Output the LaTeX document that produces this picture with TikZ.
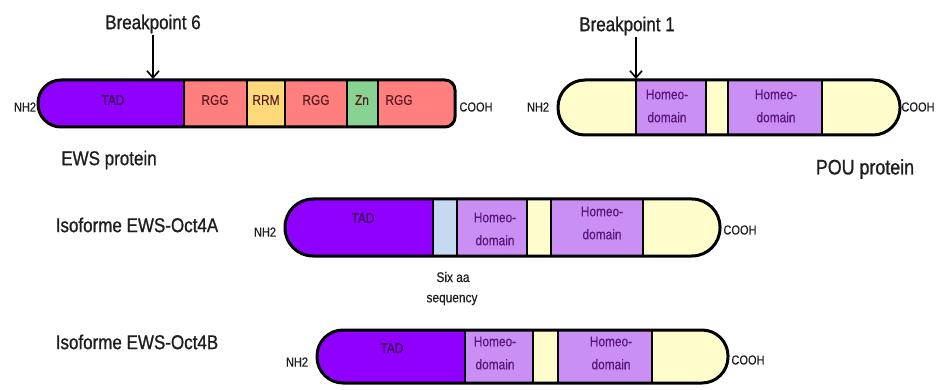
\documentclass[tikz,border=0pt]{standalone}
\usepackage{fontspec}
\setmainfont{Liberation Sans}[FakeStretch=0.85, FakeBold=0.4]
\newfontfamily\titlefont{Liberation Sans}[FakeStretch=0.85, FakeBold=1.0]
\usetikzlibrary{arrows.meta}
\definecolor{tadc}{HTML}{8F00FF}
\definecolor{rggc}{HTML}{FF7F7F}
\definecolor{rrmc}{HTML}{FFD97A}
\definecolor{znc}{HTML}{88D392}
\definecolor{homc}{HTML}{C98FF5}
\definecolor{bluec}{HTML}{C5DAF0}
\definecolor{yelc}{HTML}{FFFDCC}
\definecolor{tadtext}{HTML}{3A0050}
\definecolor{rggtext}{HTML}{5A1A20}
\definecolor{homtext}{HTML}{5A1575}
\definecolor{darktext}{HTML}{1E1E1E}
% x0 y0 x1 y1 left-radius right-radius
\newcommand\capsulepath[6]{({(#1+#3)/2},#2) [rounded corners=#6] -- (#3,#2) -- (#3,#4) -- ({(#1+#3)/2},#4) [rounded corners=#5] -- (#1,#4) -- (#1,#2) -- cycle}
\tikzset{
  outline/.style={draw=black, line width=3},
  sep/.style={draw=black, line width=2.2},
  title/.style={font=\titlefont\fontsize{20}{22}\selectfont, text=darktext, inner sep=1},
  term/.style={font=\fontsize{13}{14}\selectfont, text=darktext, inner sep=0},
  lab/.style={font=\fontsize{14}{15}\selectfont, inner sep=0},
  homlab/.style={font=\fontsize{14}{23}\selectfont, text=homtext, align=center, inner sep=0},
  bparrow/.style={draw=black, line width=1.6, -{Straight Barb[length=7,width=12,line width=1.6]}}
}
\begin{document}
\begin{tikzpicture}[x=1pt,y=-1pt]
\useasboundingbox (0,0) rectangle (939,390);

% ---------------- EWS protein ----------------
\begin{scope}
\clip \capsulepath{38}{80}{455}{127}{23}{10};
\fill[tadc] (30,75) rectangle (184,132);
\fill[rggc] (184,75) rectangle (247,132);
\fill[rrmc] (247,75) rectangle (285,132);
\fill[rggc] (285,75) rectangle (347,132);
\fill[znc] (347,75) rectangle (378,132);
\fill[rggc] (378,75) rectangle (460,132);
\end{scope}
\foreach \x in {184,247,285,347,378} \draw[sep] (\x,80) -- (\x,127);
\draw[outline] \capsulepath{38}{80}{455}{127}{23}{10};
\node[lab, text=tadtext] (ewstad) at (113,100) {TAD};
\node[lab, text=rggtext] (ewsrgg1) at (215,100) {RGG};
\node[lab, text=rggtext] (ewsrrm) at (266,100) {RRM};
\node[lab, text=rggtext] (ewsrgg2) at (316,100) {RGG};
\node[lab, text=rggtext] (ewszn) at (362,100) {Zn};
\node[lab, text=rggtext] (ewsrgg3) at (399,100) {RGG};
\node[term] (ewsnh) at (25,107) {NH2};
\node[term] (ewscooh) at (476,107) {COOH};
\node[title] (bp6t) at (153,24) {Breakpoint 6};
\coordinate (bp6) at (153,79);
\draw[bparrow] (bp6t.south) -- (bp6);
\node[title] (ewsname) at (109,160) {EWS protein};

% ---------------- POU protein ----------------
\begin{scope}
\clip \capsulepath{558}{80}{900}{135}{27}{27};
\fill[yelc] (550,75) rectangle (636,140);
\fill[homc] (636,75) rectangle (706,140);
\fill[yelc] (706,75) rectangle (728,140);
\fill[homc] (728,75) rectangle (822,140);
\fill[yelc] (822,75) rectangle (905,140);
\end{scope}
\foreach \x in {636,706,728,822} \draw[sep] (\x,80) -- (\x,135);
\draw[outline] \capsulepath{558}{80}{900}{135}{27}{27};
\node[homlab] (pouh1) at (667,106) {Homeo-\\domain};
\node[homlab] (pouh2) at (776,106) {Homeo-\\domain};
\node[term] (pounh) at (538,107) {NH2};
\node[term] (poucooh) at (918,107) {COOH};
\node[title] (bp1t) at (627,26) {Breakpoint 1};
\coordinate (bp1) at (636,79);
\draw[bparrow] (bp1t.south -| bp1) -- (bp1);
\node[title, font=\titlefont\fontsize{21}{23}\selectfont] (pouname) at (865,169) {POU protein};

% ---------------- Isoforme EWS-Oct4A ----------------
\begin{scope}
\clip \capsulepath{285}{199}{720}{256}{28}{28};
\fill[tadc] (280,195) rectangle (433,260);
\fill[bluec] (433,195) rectangle (457,260);
\fill[homc] (457,195) rectangle (527,260);
\fill[yelc] (527,195) rectangle (551,260);
\fill[homc] (551,195) rectangle (643,260);
\fill[yelc] (643,195) rectangle (725,260);
\end{scope}
\foreach \x in {433,457,527,551,643} \draw[sep] (\x,199) -- (\x,256);
\draw[outline] \capsulepath{285}{199}{720}{256}{28}{28};
\node[lab, text=tadtext] (atad) at (363,218) {TAD};
\node[homlab] (ah1) at (495,229) {Homeo-\\domain};
\node[homlab] (ah2) at (602,223) {Homeo-\\domain};
\node[term] (anh) at (265,232) {NH2};
\node[term] (acooh) at (740,230) {COOH};
\node[title] (aname) at (137,225) {Isoforme EWS-Oct4A};
\node[lab, text=darktext] (six) at (453,277) {Six aa};
\node[lab, text=darktext] (seq) at (452,300) {sequency};

% ---------------- Isoforme EWS-Oct4B ----------------
\begin{scope}
\clip \capsulepath{317}{330}{728}{383}{26}{26};
\fill[tadc] (310,325) rectangle (465,390);
\fill[homc] (465,325) rectangle (533,390);
\fill[yelc] (533,325) rectangle (558,390);
\fill[homc] (558,325) rectangle (652,390);
\fill[yelc] (652,325) rectangle (735,390);
\end{scope}
\foreach \x in {465,533,558,652} \draw[sep] (\x,330) -- (\x,383);
\draw[outline] \capsulepath{317}{330}{728}{383}{26}{26};
\node[lab, text=tadtext] (btad) at (392,348) {TAD};
\node[homlab] (bh1) at (495,353) {Homeo-\\domain};
\node[homlab] (bh2) at (611,353) {Homeo-\\domain};
\node[term] (bnh) at (297,362) {NH2};
\node[term] (bcooh) at (748,360) {COOH};
\node[title] (bname) at (137,342) {Isoforme EWS-Oct4B};
\end{tikzpicture}
\end{document}
